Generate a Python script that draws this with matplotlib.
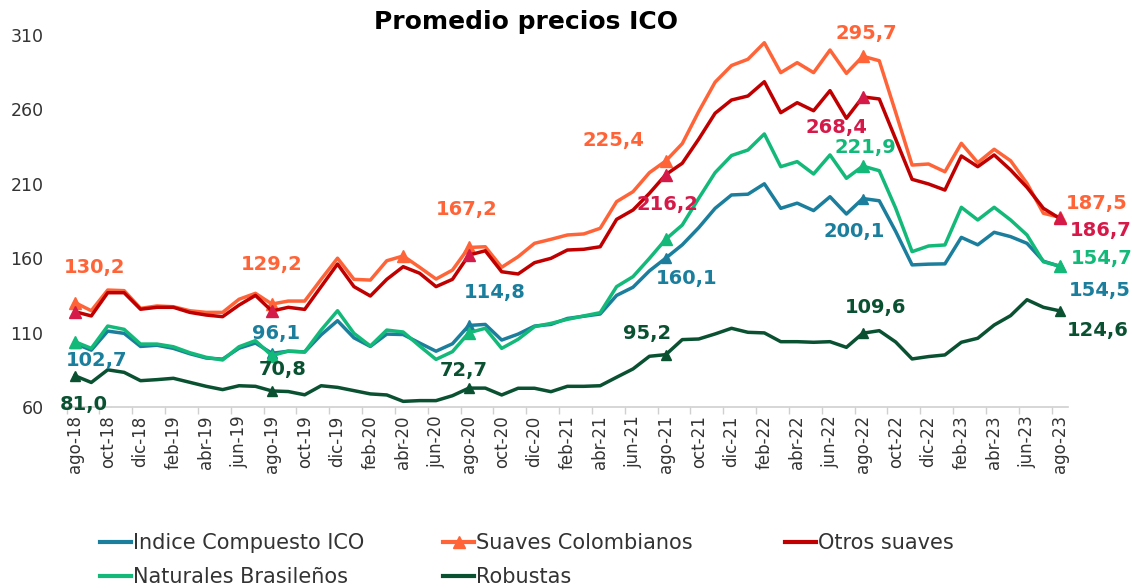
import matplotlib
matplotlib.use('Agg')
import matplotlib.pyplot as plt
from matplotlib.lines import Line2D

months = ['ago-18', 'sep-18', 'oct-18', 'nov-18', 'dic-18',
          'ene-19', 'feb-19', 'mar-19', 'abr-19', 'may-19', 'jun-19', 'jul-19', 'ago-19', 'sep-19', 'oct-19', 'nov-19', 'dic-19',
          'ene-20', 'feb-20', 'mar-20', 'abr-20', 'may-20', 'jun-20', 'jul-20', 'ago-20', 'sep-20', 'oct-20', 'nov-20', 'dic-20',
          'ene-21', 'feb-21', 'mar-21', 'abr-21', 'may-21', 'jun-21', 'jul-21', 'ago-21', 'sep-21', 'oct-21', 'nov-21', 'dic-21',
          'ene-22', 'feb-22', 'mar-22', 'abr-22', 'may-22', 'jun-22', 'jul-22', 'ago-22', 'sep-22', 'oct-22', 'nov-22', 'dic-22',
          'ene-23', 'feb-23', 'mar-23', 'abr-23', 'may-23', 'jun-23', 'jul-23', 'ago-23']

indice_compuesto = [102.7, 98.2, 111.0, 109.5, 100.7, 101.5, 99.4, 95.8, 92.9, 92.2, 99.5, 103.0, 96.1,
                    97.5, 97.0, 108.5, 118.0, 106.5, 100.7, 109.0, 108.7, 103.0, 97.5, 102.5, 114.8,
                    115.5, 105.0, 109.0, 114.4, 115.5, 119.5, 121.0, 122.5, 135.0, 140.5, 151.5, 160.1,
                    169.0, 180.5, 193.5, 202.5, 203.0, 210.0, 193.5, 197.0, 192.0, 201.3, 189.7, 200.1,
                    198.6, 178.0, 155.5, 156.0, 156.2, 174.0, 169.0, 177.4, 174.5, 170.0, 158.0, 154.5]

suaves_colombianos = [130.2, 124.7, 138.6, 138.2, 126.3, 127.9, 127.4, 124.7, 123.6, 123.6, 132.4, 136.4, 129.2,
                      131.2, 131.2, 145.8, 160.0, 145.8, 145.3, 158.3, 161.5, 153.9, 146.0, 152.0, 167.2,
                      167.7, 153.9, 161.0, 170.0, 172.7, 175.6, 176.3, 180.1, 198.0, 204.7, 217.5, 225.4,
                      237.0, 258.5, 278.3, 289.5, 293.7, 304.8, 284.7, 291.4, 284.7, 299.9, 284.2, 295.7,
                      292.7, 258.0, 222.6, 223.3, 218.1, 237.2, 224.2, 233.2, 225.5, 210.3, 190.2, 187.5]

otros_suaves = [124.1, 121.2, 136.8, 136.8, 125.7, 127.0, 127.0, 123.6, 121.8, 120.7, 128.5, 135.0, 124.5,
                127.0, 125.6, 140.9, 156.1, 140.9, 134.6, 145.8, 154.3, 149.9, 140.9, 145.8, 162.1,
                165.0, 150.9, 149.4, 157.0, 159.9, 165.5, 166.0, 167.7, 186.1, 192.4, 203.6, 216.2,
                223.8, 240.0, 257.4, 266.3, 269.0, 278.6, 257.8, 264.5, 259.1, 272.6, 254.0, 268.4,
                267.0, 240.0, 213.0, 209.9, 205.8, 228.7, 221.5, 229.4, 219.3, 207.6, 193.5, 186.7]

naturales_brasilenos = [103.9, 99.4, 114.4, 112.2, 102.3, 102.3, 100.5, 96.5, 93.4, 91.6, 100.5, 104.6, 94.5,
                        97.6, 97.0, 111.7, 124.7, 109.5, 101.0, 111.7, 110.4, 101.0, 92.0, 97.2, 109.9,
                        112.9, 99.4, 105.5, 114.0, 116.2, 118.9, 121.2, 123.4, 140.9, 147.6, 159.9, 172.8,
                        182.3, 200.2, 217.5, 229.0, 232.7, 243.5, 221.5, 224.9, 216.6, 229.4, 213.7, 221.9,
                        218.8, 193.6, 164.4, 168.2, 168.9, 194.2, 185.7, 194.2, 185.7, 175.6, 157.6, 154.7]

robustas = [81.0, 76.5, 85.0, 83.3, 77.7, 78.4, 79.3, 76.6, 73.9, 71.7, 74.3, 73.9, 70.8,
            70.4, 68.2, 74.3, 73.2, 71.0, 68.8, 68.1, 63.8, 64.3, 64.3, 67.6, 72.7,
            72.7, 68.1, 72.6, 72.6, 70.3, 73.9, 73.9, 74.3, 80.0, 85.6, 94.1, 95.2,
            105.3, 105.7, 109.1, 112.9, 110.2, 109.8, 103.9, 103.9, 103.5, 103.9, 100.1, 109.6,
            111.3, 103.7, 92.3, 93.9, 95.0, 103.5, 106.2, 115.1, 121.4, 132.1, 127.0, 124.6]

series_names = ['Indice Compuesto ICO', 'Suaves Colombianos', 'Otros suaves',
                'Naturales Brasileños', 'Robustas']
y_ticks = [60, 110, 160, 210, 260, 310]
title = 'Promedio precios ICO'

# ---------------- styling ----------------
C_IC = '#1A7E9C'
C_SC = '#FF6438'
C_OS_LINE = '#C00000'
C_OS_MARK = '#D51A4A'
C_NB = '#12B978'
C_RB = '#0A5132'

fig = plt.figure(figsize=(11.32, 5.88), dpi=100)
ax = fig.add_axes([0.0557, 0.3078, 0.8878, 0.6327])

x = list(range(len(months)))
aug_idx = [i for i, m in enumerate(months) if m.startswith('ago')]
sc_idx = sorted(aug_idx + [months.index('abr-20')])

lw = 2.5
ax.plot(x, indice_compuesto, color=C_IC, lw=lw, zorder=3,
        marker='^', markevery=aug_idx, ms=7, mfc=C_IC, mec=C_IC)
ax.plot(x, suaves_colombianos, color=C_SC, lw=lw, zorder=3,
        marker='^', markevery=sc_idx, ms=9, mfc=C_SC, mec=C_SC)
ax.plot(x, otros_suaves, color=C_OS_LINE, lw=lw, zorder=4)
ax.plot([x[i] for i in aug_idx], [otros_suaves[i] for i in aug_idx], ls='none',
        marker='^', ms=9, color=C_OS_MARK, zorder=6)
ax.plot(x, naturales_brasilenos, color=C_NB, lw=lw, zorder=5,
        marker='^', markevery=aug_idx, ms=9, mfc=C_NB, mec=C_NB)
ax.plot(x, robustas, color=C_RB, lw=lw, zorder=5,
        marker='^', markevery=aug_idx, ms=7, mfc=C_RB, mec=C_RB)

ax.set_xlim(-0.72, 60.5)
ax.set_ylim(60, 310)
ax.set_yticks(y_ticks)
ax.set_yticklabels([str(v) for v in y_ticks])
ax.set_xticks(x[::2])
ax.set_xticklabels(months[::2], rotation=90)
ax.set_xticks([i + 0.5 for i in range(-1, 60, 2)], minor=True)
ax.tick_params(axis='y', length=0, pad=14, labelsize=12.5, labelcolor='#333333')
ax.tick_params(axis='x', which='major', length=0, pad=6, labelsize=12, labelcolor='#333333')
ax.tick_params(axis='x', which='minor', length=5, color='#d0d0d0', width=1)
for s in ['top', 'right', 'left']:
    ax.spines[s].set_visible(False)
ax.spines['bottom'].set_color('#d0d0d0')
ax.spines['bottom'].set_linewidth(1.2)

# data labels: (series, color, index, dx, dy) offsets in pixels
label_specs = [
    (suaves_colombianos, C_SC, 0, 20, 35), (suaves_colombianos, C_SC, 12, 0, 40),
    (suaves_colombianos, C_SC, 24, -2, 38), (suaves_colombianos, C_SC, 36, -52, 20),
    (suaves_colombianos, C_SC, 48, 3, 23), (suaves_colombianos, C_SC, 60, 37, 14),
    (otros_suaves, C_OS_MARK, 36, 2, -30), (otros_suaves, C_OS_MARK, 48, -26, -31),
    (otros_suaves, C_OS_MARK, 60, 41, -12),
    (naturales_brasilenos, C_NB, 48, 3, 19), (naturales_brasilenos, C_NB, 60, 42, 8),
    (indice_compuesto, C_IC, 0, 22, -17), (indice_compuesto, C_IC, 12, 4, 20),
    (indice_compuesto, C_IC, 24, 26, 33), (indice_compuesto, C_IC, 36, 21, -20),
    (indice_compuesto, C_IC, 48, -9, -33), (indice_compuesto, C_IC, 60, 40, -24),
    (robustas, C_RB, 0, 9, -29), (robustas, C_RB, 12, 11, 21), (robustas, C_RB, 24, -5, 18),
    (robustas, C_RB, 36, -19, 21), (robustas, C_RB, 48, 13, 26), (robustas, C_RB, 60, 38, -20),
]
for ser, col, i, dx, dy in label_specs:
    ax.annotate(f"{ser[i]:.1f}".replace('.', ','), (x[i], ser[i]),
                xytext=(dx, dy), textcoords='offset pixels',
                ha='center', va='center', fontsize=14, fontweight='bold',
                color=col, zorder=10, annotation_clip=False)

fig.text(0.4647, 0.962, title, ha='center', va='center', fontsize=18, fontweight='bold',
         color='black')

# legend, one entry per position
handles = [
    Line2D([], [], color=C_IC, lw=3),
    Line2D([], [], color=C_SC, lw=3, marker='^', ms=9),
    Line2D([], [], color=C_OS_LINE, lw=3),
    Line2D([], [], color=C_NB, lw=3),
    Line2D([], [], color=C_RB, lw=3),
]
leg_pos = [(100, 543), (443, 543), (785, 543), (100, 577), (443, 577)]
for h, name, (px, py) in zip(handles, series_names, leg_pos):
    fig.legend(handles=[h], labels=[name], loc='center left',
               bbox_to_anchor=(px / 1132, 1 - py / 588), frameon=False,
               handlelength=1.5, handletextpad=0.1, borderpad=0, borderaxespad=0,
               prop={'size': 15}, labelcolor='#333333')

fig.savefig('out.png', dpi=100)
